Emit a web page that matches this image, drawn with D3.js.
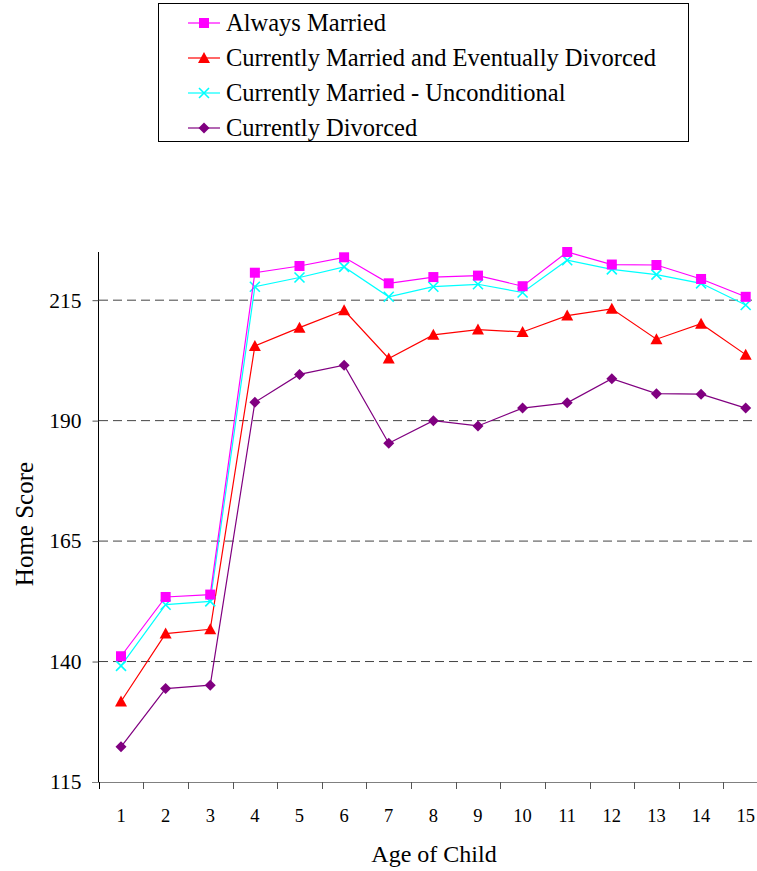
<!DOCTYPE html>
<html>
<head>
<meta charset="utf-8">
<script src="https://cdn.jsdelivr.net/npm/d3@7"></script>
<style>
  body { margin: 0; background: #fff; }
  text { font-family: "Liberation Serif", "Times New Roman", serif; fill: #000; }
</style>
</head>
<body>
<div id="chart"></div>
<script>
// ages on the x axis
const ages = [1, 2, 3, 4, 5, 6, 7, 8, 9, 10, 11, 12, 13, 14, 15]
const yTicks = [115, 140, 165, 190, 215]
const gridValues = [140, 165, 190, 215]

const seriesNames = [
  'Always Married',
  'Currently Married and Eventually Divorced',
  'Currently Married - Unconditional',
  'Currently Divorced'
]

const alwaysMarried = [141.1, 153.4, 153.9, 220.7, 222.1, 223.9, 218.5, 219.8, 220.1, 217.9, 225.0, 222.4, 222.3, 219.4, 215.7]
const eventuallyDivorced = [131.7, 145.8, 146.7, 205.5, 209.3, 212.9, 202.9, 207.8, 208.9, 208.4, 211.8, 213.2, 206.9, 210.1, 203.7]
const unconditional = [139.1, 151.8, 152.5, 217.8, 219.7, 221.9, 215.7, 217.8, 218.3, 216.6, 223.3, 221.4, 220.3, 218.5, 214.0]
const currentlyDivorced = [122.3, 134.4, 135.1, 193.8, 199.6, 201.5, 185.3, 190.0, 188.9, 192.6, 193.7, 198.7, 195.6, 195.5, 192.6]

const W = 757, H = 871

const svg = d3.select('#chart')
  .append('svg')
    .attr('width', W)
    .attr('height', H)

const series = [
  { name: seriesNames[0], values: alwaysMarried, color: '#ff00ff', symbol: 'square' },
  { name: seriesNames[1], values: eventuallyDivorced, color: '#ff0000', symbol: 'triangle' },
  { name: seriesNames[2], values: unconditional, color: '#00ffff', symbol: 'cross' },
  { name: seriesNames[3], values: currentlyDivorced, color: '#800080', symbol: 'diamond' }
]

const xScale = d3.scaleBand()
  .domain(ages)
  .range([98.7, 768])

const yScale = d3.scaleLinear()
  .domain([115, 225])
  .range([782, 252])

const xc = d => xScale(d) + xScale.bandwidth() / 2

// grid lines
svg.append('g')
  .selectAll('line')
  .data(gridValues)
  .enter()
  .append('line')
    .attr('x1', 99)
    .attr('x2', W)
    .attr('y1', d => yScale(d))
    .attr('y2', d => yScale(d))
    .style('stroke', '#444')
    .style('stroke-width', 1)
    .style('stroke-dasharray', '9,5')

// y axis
const yAxis = d3.axisLeft(yScale)
  .tickValues(yTicks)
  .tickSize(6)
  .tickPadding(11)

const yG = svg.append('g')
  .attr('transform', 'translate(98.5, 0)')
  .call(yAxis)
yG.select('.domain').attr('d', `M-0,${yScale(225)}V${yScale(115)}`).style('stroke', '#000')
yG.selectAll('.tick line').style('stroke', '#555')
yG.selectAll('text')
  .style('font-size', '21.5px')
  .style('font-family', '"Liberation Serif", serif')

// x axis
svg.append('line')
  .attr('x1', 92)
  .attr('x2', W)
  .attr('y1', yScale(115) + 0.5)
  .attr('y2', yScale(115) + 0.5)
  .style('stroke', '#808080')

const edges = ages.map(d => xScale(d)).concat([xScale(15) + xScale.bandwidth()])
svg.append('g')
  .selectAll('line')
  .data(edges)
  .enter()
  .append('line')
    .attr('x1', d => Math.round(d) + 0.5)
    .attr('x2', d => Math.round(d) + 0.5)
    .attr('y1', yScale(115))
    .attr('y2', yScale(115) + 7)
    .style('stroke', d => d < 100 ? '#000' : '#555')

const xAxis = d3.axisBottom(xScale)
  .tickSize(0)
  .tickPadding(27)

const xG = svg.append('g')
  .attr('transform', `translate(0, ${yScale(115)})`)
  .call(xAxis)
xG.select('.domain').remove()
xG.selectAll('text')
  .style('font-size', '18.5px')
  .style('font-family', '"Liberation Serif", serif')

// axis titles
svg.append('text')
  .attr('x', 434)
  .attr('y', 862)
  .attr('text-anchor', 'middle')
  .style('font-size', '24px')
  .text('Age of Child')

svg.append('text')
  .attr('transform', 'translate(33, 524) rotate(-90)')
  .attr('text-anchor', 'middle')
  .style('font-size', '25px')
  .text('Home Score')

// markers
function drawMarker(g, symbol, color, cx, cy) {
  if (symbol === 'square') {
    g.append('rect')
      .attr('x', cx - 5).attr('y', cy - 5)
      .attr('width', 10).attr('height', 10)
      .style('fill', color)
  } else if (symbol === 'triangle') {
    g.append('path')
      .attr('d', `M${cx},${cy - 6}L${cx + 6},${cy + 5}L${cx - 6},${cy + 5}Z`)
      .style('fill', color)
  } else if (symbol === 'cross') {
    g.append('path')
      .attr('d', `M${cx - 5},${cy - 5}L${cx + 5},${cy + 5}M${cx + 5},${cy - 5}L${cx - 5},${cy + 5}`)
      .style('stroke', color)
      .style('stroke-width', 1.6)
  } else {
    g.append('path')
      .attr('d', `M${cx},${cy - 5.5}L${cx + 5.5},${cy}L${cx},${cy + 5.5}L${cx - 5.5},${cy}Z`)
      .style('fill', color)
  }
}

const line = d3.line()
  .x((d, i) => xc(ages[i]))
  .y(d => yScale(d))

// draw from back to front
const drawOrder = [3, 1, 2, 0]
drawOrder.forEach(k => {
  const s = series[k]
  const g = svg.append('g').attr('class', 'series')
  g.append('path')
    .datum(s.values)
    .attr('d', line)
    .style('fill', 'none')
    .style('stroke', s.color)
    .style('stroke-width', 1.2)
  s.values.forEach((v, i) => drawMarker(g, s.symbol, s.color, xc(ages[i]), yScale(v)))
})

// legend
const legend = svg.append('g')
legend.append('rect')
  .attr('x', 158.5)
  .attr('y', 3.5)
  .attr('width', 530)
  .attr('height', 138)
  .style('fill', '#fff')
  .style('stroke', '#000')
  .style('stroke-width', 1)

series.forEach((s, i) => {
  const cy = 23 + i * 35
  legend.append('line')
    .attr('x1', 188).attr('x2', 220)
    .attr('y1', cy).attr('y2', cy)
    .style('stroke', s.color)
    .style('stroke-width', 1.2)
  drawMarker(legend, s.symbol, s.color, 204, cy)
  legend.append('text')
    .attr('x', 226)
    .attr('y', cy + 8)
    .style('font-size', '24.5px')
    .text(s.name)
})
</script>
</body>
</html>
